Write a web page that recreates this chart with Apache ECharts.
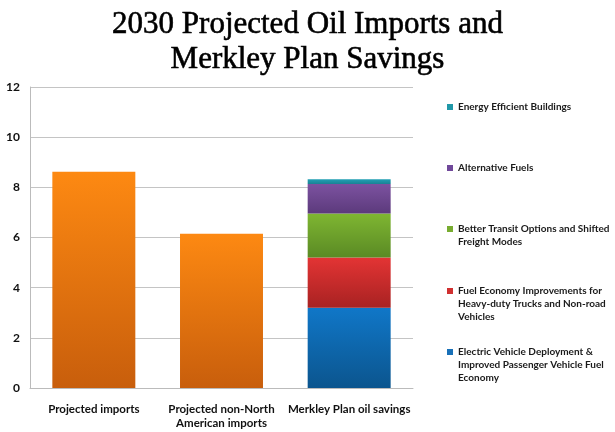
<!DOCTYPE html>
<html><head><meta charset="utf-8">
<script src="https://cdn.jsdelivr.net/npm/echarts@6/dist/echarts.min.js"></script>
<style>html,body{margin:0;padding:0;background:#fff}#c{width:615px;height:432px}</style>
</head><body><div id="c"></div>
<script>
var categories = ['Projected imports', 'Projected non-North\nAmerican imports', 'Merkley Plan oil savings'];
var projected = [8.62, 6.15, '-'];
var evDeployment = ['-', '-', 3.2];
var fuelEconomy = ['-', '-', 2.0];
var transit = ['-', '-', 1.76];
var altFuels = ['-', '-', 1.17];
var buildings = ['-', '-', 0.19];
var yTicks = [0, 2, 4, 6, 8, 10, 12];

var names = ['Electric Vehicle Deployment &\nImproved Passenger Vehicle Fuel\nEconomy',
  'Fuel Economy Improvements for\nHeavy-duty Trucks and Non-road\nVehicles',
  'Better Transit Options and Shifted\nFreight Modes',
  'Alternative Fuels',
  'Energy Efficient Buildings'];

function grad(top, bottom) {
  return new echarts.graphic.LinearGradient(0, 0, 0, 1, [{offset: 0, color: top}, {offset: 1, color: bottom}]);
}
var chart = echarts.init(document.getElementById('c'));
var font = 'Lato, "Open Sans", sans-serif';
var LH = 12.7;
function mkSeries(name, data, top, bottom, legendColor) {
  return {name: name, type: 'bar', stack: 'total', data: data, barWidth: '65%',
    itemStyle: {color: grad(top, bottom)}, color: legendColor};
}
// first-line centres of legend entries (top to bottom)
var legendCentres = [107, 168, 229, 291, 352];
var legendOrder = [4, 3, 2, 1, 0];
var legendColors = ['#1870b8', '#d03030', '#78ac30', '#70489a', '#2098a8'];
var legends = legendOrder.map(function (idx, i) {
  var lines = names[idx].split('\n').length;
  var h = lines * LH;
  var icon = 'rect', ih = 6;
  if (lines > 1) {
    var a = LH / 2 - 3, b = LH / 2 + 3;
    icon = 'path://M0,0L0.01,0M0,' + a + 'L6,' + a + 'L6,' + b + 'L0,' + b + 'ZM0,' + h + 'L0.01,' + h;
    ih = h;
  }
  return {orient: 'vertical', left: 447, top: legendCentres[i] - LH / 2, padding: 0,
    data: [{name: names[idx], itemStyle: {color: legendColors[idx]}, icon: icon}],
    itemWidth: 6, itemHeight: ih, itemGap: 0, selectedMode: false,
    textStyle: {fontFamily: font, fontWeight: 'bold', fontSize: 10, color: '#1a1a1a', lineHeight: LH}};
});
chart.setOption({
  animation: false,
  title: {text: '2030 Projected Oil Imports and\nMerkley Plan Savings', left: 'center', top: 2,
    textStyle: {fontFamily: '"Liberation Serif", serif', fontWeight: 'normal', fontSize: 31, lineHeight: 35, color: '#000',
      textBorderColor: '#000', textBorderWidth: 0.6}},
  legend: legends,
  grid: {left: 30, right: 202, top: 87, bottom: 44},
  xAxis: {type: 'category', data: categories,
    axisLine: {lineStyle: {color: '#bbb'}}, axisTick: {show: false},
    axisLabel: {fontFamily: font, fontWeight: 'bold', fontSize: 11.5, color: '#111', margin: 14, lineHeight: 14, interval: 0}},
  yAxis: {type: 'value', min: 0, max: 12, interval: 2,
    axisLine: {show: true, lineStyle: {color: '#bbb'}}, axisTick: {show: false},
    splitLine: {lineStyle: {color: '#c4c4c4'}},
    axisLabel: {fontFamily: font, fontWeight: 'bold', fontSize: 12, color: '#111', margin: 10,
      formatter: function (v) { return yTicks.indexOf(v) >= 0 ? String(v) : ''; }}},
  series: [
    {name: 'Projected', type: 'bar', stack: 'total', data: projected, barWidth: '65%', itemStyle: {color: grad('#fd8912', '#c85e0c')}},
    mkSeries(names[0], evDeployment, '#1077c8', '#0b558e', legendColors[0]),
    mkSeries(names[1], fuelEconomy, '#e33434', '#a82222', legendColors[1]),
    mkSeries(names[2], transit, '#7fb632', '#5a8a24', legendColors[2]),
    mkSeries(names[3], altFuels, '#7c52a0', '#5c3a7c', legendColors[3]),
    mkSeries(names[4], buildings, '#22a0b4', '#1a8294', legendColors[4])
  ]
});
</script></body></html>
